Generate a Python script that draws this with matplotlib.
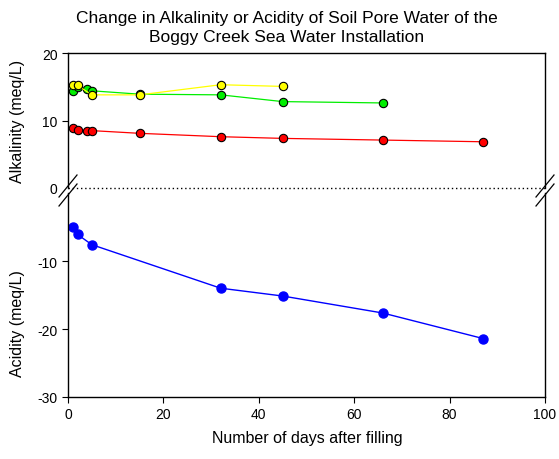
import matplotlib
matplotlib.use('Agg')
import matplotlib.pyplot as plt
from matplotlib.lines import Line2D

plt.rcParams['font.family'] = ['Liberation Sans', 'DejaVu Sans']
plt.rcParams['axes.unicode_minus'] = False

# days after filling and values
red_days = [1, 2, 4, 5, 15, 32, 45, 66, 87]
red_alk = [8.9, 8.6, 8.5, 8.5, 8.1, 7.6, 7.35, 7.1, 6.85]

green_days = [1, 2, 4, 5, 15, 32, 45, 66]
green_alk = [14.4, 14.9, 14.7, 14.4, 13.9, 13.8, 12.8, 12.6]

yellow_days = [1, 2, 5, 15, 32, 45]
yellow_alk = [15.3, 15.2, 13.8, 13.8, 15.3, 15.05]

blue_days = [1, 2, 5, 32, 45, 66, 87]
blue_acid = [-5.0, -6.1, -7.6, -14.0, -15.15, -17.65, -21.4]

W, H = 559, 460
fig = plt.figure(figsize=(W / 100, H / 100), dpi=100)

left, right = 68, 545
ax_top = fig.add_axes([left / W, 1 - 189 / H, (right - left) / W, (189 - 54) / H])
ax_bot = fig.add_axes([left / W, 1 - 398 / H, (right - left) / W, (398 - 194) / H])

mk = dict(marker='o', markersize=6, linewidth=0.9, markeredgecolor='black', markeredgewidth=0.8)
ax_top.plot(red_days, red_alk, color='#ff0000', markerfacecolor='#ff0000', **mk)
ax_top.plot(green_days, green_alk, color='#00ee00', markerfacecolor='#00ee00', **mk)
ax_top.plot(yellow_days, yellow_alk, color='#ffff00', markerfacecolor='#ffff00', **mk)
ax_top.axhline(0, color='black', linestyle=(0, (1, 2)), linewidth=1, clip_on=False)

ax_bot.plot(blue_days, blue_acid, color='#0000ff', marker='o', markersize=6.5, linewidth=1)

for ax in (ax_top, ax_bot):
    ax.set_xlim(0, 100)
    ax.tick_params(direction='out', length=4, width=0.8, labelsize=10)
    for s in ax.spines.values():
        s.set_linewidth(1)

ax_top.set_ylim(0, 20)
ax_top.set_yticks([0, 10, 20])
ax_top.spines['bottom'].set_visible(False)
ax_top.tick_params(axis='x', bottom=False, labelbottom=False)
ax_top.yaxis.get_major_ticks()[0].tick1line.set_visible(False)

ax_bot.set_ylim(-30, 0)
ax_bot.set_yticks([-30, -20, -10])
ax_bot.set_xticks([0, 20, 40, 60, 80, 100])
ax_bot.spines['top'].set_visible(False)

# axis break marks
def px(x, y):
    return x / W, 1 - y / H

for xc in (left, right):
    for yc in (187, 196):
        x0, y0 = px(xc - 9, yc + 11)
        x1, y1 = px(xc + 9, yc - 11)
        fig.add_artist(Line2D([x0, x1], [y0, y1], color='black', linewidth=0.9))

fig.text(287 / W, 1 - 28 / H,
         'Change in Alkalinity or Acidity of Soil Pore Water of the\nBoggy Creek Sea Water Installation',
         ha='center', va='center', fontsize=12.5, linespacing=1.28)
fig.text(18 / W, 1 - 121 / H, 'Alkalinity (meq/L)', rotation=90, ha='center', va='center', fontsize=11.5)
fig.text(18 / W, 1 - 324 / H, 'Acidity (meq/L)', rotation=90, ha='center', va='center', fontsize=11.5)
fig.text(307 / W, 1 - 439 / H, 'Number of days after filling', ha='center', va='center', fontsize=11.5)

fig.savefig('out.png', dpi=100)
